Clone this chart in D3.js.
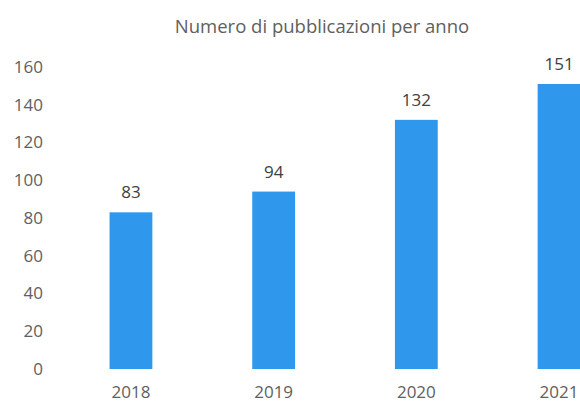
<!DOCTYPE html>
<html>
<head>
<meta charset="utf-8">
<script src="https://cdn.jsdelivr.net/npm/d3@7"></script>
<style>
  html, body { margin: 0; padding: 0; background: #ffffff; }
  svg { display: block; }
  text { font-family: "Open Sans", "DejaVu Sans", sans-serif; }
</style>
</head>
<body>
<svg id="chart" width="580" height="405"></svg>
<script>
const title = "Numero di pubblicazioni per anno";
const years = ["2018", "2019", "2020", "2021"];
const counts = [83, 94, 132, 151];
const yTicks = [0, 20, 40, 60, 80, 100, 120, 140, 160];

const svg = d3.select("#chart");
const W = 580, H = 405;

const x = d3.scaleBand()
  .domain(years)
  .range([59.6, 59.6 + 4 * 142.7])
  .paddingInner(0.7)
  .paddingOuter(0.35);

const y = d3.scaleLinear().domain([0, 160]).range([369, 67]);

svg.append("rect").attr("width", W).attr("height", H).attr("fill", "#ffffff");

// title
svg.append("text")
  .attr("x", 322).attr("y", 33)
  .attr("text-anchor", "middle")
  .attr("font-size", 18.5)
  .attr("fill", "#606060")
  .text(title);

// y axis
const yAxis = d3.axisLeft(y).tickValues(yTicks).tickSize(0).tickPadding(0);
const gy = svg.append("g").attr("transform", "translate(43,0)").call(yAxis);
gy.select(".domain").remove();
gy.selectAll("text")
  .attr("font-size", 17)
  .attr("fill", "#606060")
  .attr("font-family", "'Open Sans', sans-serif");

// x axis
const xAxis = d3.axisBottom(x).tickSize(0).tickPadding(0);
const gx = svg.append("g").attr("transform", "translate(0,386)").call(xAxis);
gx.select(".domain").remove();
gx.selectAll("text")
  .attr("font-size", 17)
  .attr("fill", "#606060")
  .attr("font-family", "'Open Sans', sans-serif");

// bars
svg.append("g").selectAll("rect")
  .data(years)
  .join("rect")
  .attr("x", d => x(d))
  .attr("width", x.bandwidth())
  .attr("y", (d, i) => y(counts[i]))
  .attr("height", (d, i) => y(0) - y(counts[i]))
  .attr("fill", "#2F97EC");

// value labels
svg.append("g").selectAll("text")
  .data(years)
  .join("text")
  .attr("x", d => x(d) + x.bandwidth() / 2)
  .attr("y", (d, i) => y(counts[i]) - 14)
  .attr("text-anchor", "middle")
  .attr("font-size", 17)
  .attr("fill", "#404040")
  .text((d, i) => counts[i]);
</script>
</body>
</html>
